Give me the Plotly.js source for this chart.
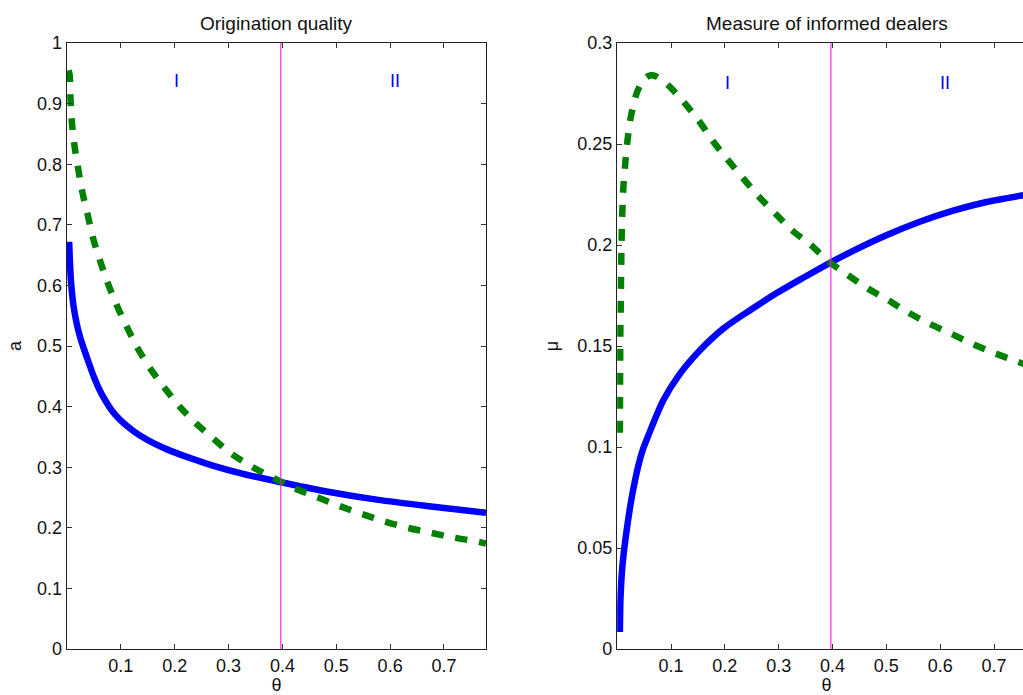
<!DOCTYPE html>
<html>
<head>
<meta charset="utf-8">
<script src="https://cdn.plot.ly/plotly-3.0.1.min.js"></script>
<style>
html,body{margin:0;padding:0;overflow:hidden;background:#fff;}
#plot{width:1050px;height:695px;}
</style>
</head>
<body>
<div id="plot"></div>
<script>
// ---- Data ----
// Left panel: Origination quality (a vs theta)
var thetaA_solid = [0.004,0.006,0.008,0.012,0.018,0.024,0.030,0.039,0.050,0.066,0.089,0.126,0.179,0.259,0.327,0.395,0.482,0.575,0.668,0.778];
var a_solid      = [0.672,0.628,0.600,0.567,0.537,0.516,0.499,0.476,0.449,0.418,0.387,0.358,0.332,0.306,0.289,0.2756,0.260,0.2465,0.236,0.225];

var thetaA_dash = [0.003,0.005,0.0065,0.009,0.014,0.021,0.029,0.039,0.049,0.062,0.077,0.093,0.112,0.132,0.156,0.182,0.21,0.241,0.273,0.307,0.345,0.384,0.423,0.463,0.506,0.547,0.588,0.632,0.674,0.717,0.764,0.778];
var a_dash      = [0.955,0.947,0.908,0.870,0.830,0.791,0.752,0.714,0.676,0.639,0.601,0.566,0.530,0.495,0.461,0.430,0.399,0.371,0.346,0.321,0.300,0.282,0.265,0.251,0.236,0.223,0.211,0.200,0.192,0.184,0.177,0.174];

// Right panel: Measure of informed dealers (mu vs theta)
var thetaM_solid = [0.005,0.0062,0.010,0.0176,0.027,0.039,0.048,0.058,0.0857,0.1167,0.1538,0.197,0.2467,0.2963,0.3457,0.3953,0.439,0.50,0.562,0.624,0.686,0.751,0.778];
var mu_solid     = [0.0084,0.0257,0.042,0.0588,0.075,0.0905,0.099,0.1058,0.1231,0.1363,0.1479,0.1586,0.1677,0.1762,0.1838,0.1912,0.1972,0.2048,0.2115,0.2170,0.2213,0.2245,0.2257];

var thetaM_dash = [0.005,0.0052,0.0054,0.0056,0.0058,0.0065,0.007,0.0076,0.0084,0.0095,0.0113,0.0145,0.0188,0.025,0.036,0.048,0.061,0.072,0.095,0.126,0.153,0.179,0.206,0.234,0.263,0.294,0.326,0.360,0.392,0.429,0.466,0.504,0.541,0.580,0.621,0.660,0.700,0.742,0.778];
var mu_dash     = [0.107,0.122,0.134,0.146,0.157,0.169,0.181,0.193,0.205,0.216,0.228,0.239,0.251,0.263,0.275,0.2815,0.284,0.2835,0.279,0.270,0.261,0.251,0.242,0.233,0.224,0.2155,0.207,0.200,0.192,0.185,0.1784,0.1726,0.1665,0.161,0.156,0.151,0.1466,0.1424,0.139];

var thetaStar = 0.397;

var xTicks = [0.1,0.2,0.3,0.4,0.5,0.6,0.7];
var xTickText = ["0.1","0.2","0.3","0.4","0.5","0.6","0.7"];
var aTicks = [0,0.1,0.2,0.3,0.4,0.5,0.6,0.7,0.8,0.9,1];
var aTickText = ["0","0.1","0.2","0.3","0.4","0.5","0.6","0.7","0.8","0.9","1"];
var muTicks = [0,0.05,0.1,0.15,0.2,0.25,0.3];
var muTickText = ["0","0.05","0.1","0.15","0.2","0.25","0.3"];

var regionLabels = ["I","II"];
var regionX = [0.204,0.609];

// ---- Plot ----
var FONT = "Liberation Sans, Arial, Helvetica, sans-serif";
var BLUE = "#0000ff", GREEN = "#008000", MAGENTA = "#ff00ff";

var traces = [
  {x: thetaA_solid, y: a_solid, xaxis:"x", yaxis:"y", mode:"lines", line:{color:BLUE, width:6.5, shape:"spline", smoothing:0.8}, hoverinfo:"skip"},
  {x: thetaA_dash, y: a_dash, xaxis:"x", yaxis:"y", mode:"lines", line:{color:GREEN, width:6.5, dash:"12px,12px", shape:"spline", smoothing:0.8}, hoverinfo:"skip"},
  {x: [thetaStar,thetaStar], y: [0,1], xaxis:"x", yaxis:"y", mode:"lines", line:{color:MAGENTA, width:1}, hoverinfo:"skip"},
  {x: thetaM_solid, y: mu_solid, xaxis:"x2", yaxis:"y2", mode:"lines", line:{color:BLUE, width:6.5, shape:"spline", smoothing:0.8}, hoverinfo:"skip"},
  {x: thetaM_dash, y: mu_dash, xaxis:"x2", yaxis:"y2", mode:"lines", line:{color:GREEN, width:6.5, dash:"12px,12px", shape:"spline", smoothing:0.8}, hoverinfo:"skip"},
  {x: [thetaStar,thetaStar], y: [0,0.3], xaxis:"x2", yaxis:"y2", mode:"lines", line:{color:MAGENTA, width:1}, hoverinfo:"skip"}
];

function xax(domain, anchor){
  return {domain:domain, anchor:anchor, range:[0,0.778], tickvals:xTicks, ticktext:xTickText,
    ticks:"inside", ticklen:5, tickcolor:"#333", tickwidth:1, showline:true, linecolor:"#222", linewidth:1.3,
    mirror:"ticks", showgrid:false, zeroline:false, tickfont:{family:FONT,size:18,color:"#111"},
    title:{text:"θ", font:{family:FONT,size:18,color:"#111"}, standoff:5}};
}
function yax(domain, anchor, range, tv, tt, label, so){
  return {domain:domain, anchor:anchor, range:range, tickvals:tv, ticktext:tt,
    ticks:"inside", ticklen:5, tickcolor:"#333", tickwidth:1, showline:true, linecolor:"#222", linewidth:1.3,
    mirror:"ticks", showgrid:false, zeroline:false, tickfont:{family:FONT,size:18,color:"#111"},
    title:{text:label, font:{family:FONT,size:18,color:"#111"}, standoff:so}};
}

var annotations = [
  {text:"Origination quality", xref:"x domain", yref:"y domain", x:0.5, y:1, yanchor:"bottom", yshift:7, showarrow:false, font:{family:FONT,size:19,color:"#111"}},
  {text:"Measure of informed dealers", xref:"x2 domain", yref:"y2 domain", x:0.5, y:1, yanchor:"bottom", yshift:7, showarrow:false, font:{family:FONT,size:19,color:"#111"}}
];
for (var i=0;i<regionLabels.length;i++){
  annotations.push({text:regionLabels[i], xref:"x", yref:"y", x:regionX[i], y:0.938, showarrow:false, font:{family:FONT,size:18,color:BLUE}});
  annotations.push({text:regionLabels[i], xref:"x2", yref:"y2", x:regionX[i], y:0.28, showarrow:false, font:{family:FONT,size:18,color:BLUE}});
}

var layout = {
  width:1050, height:695,
  margin:{l:67, r:14, t:43, b:46},
  paper_bgcolor:"#fff", plot_bgcolor:"#fff",
  showlegend:false,
  xaxis: xax([0,0.4324],"y"),
  yaxis: yax([0,1],"x",[0,1],aTicks,aTickText,"a",10),
  xaxis2: xax([0.5678,1],"y2"),
  yaxis2: yax([0,1],"x2",[0,0.3],muTicks,muTickText,"μ",14),
  annotations: annotations
};

Plotly.newPlot("plot", traces, layout, {staticPlot:true, displayModeBar:false});
</script>
</body>
</html>
